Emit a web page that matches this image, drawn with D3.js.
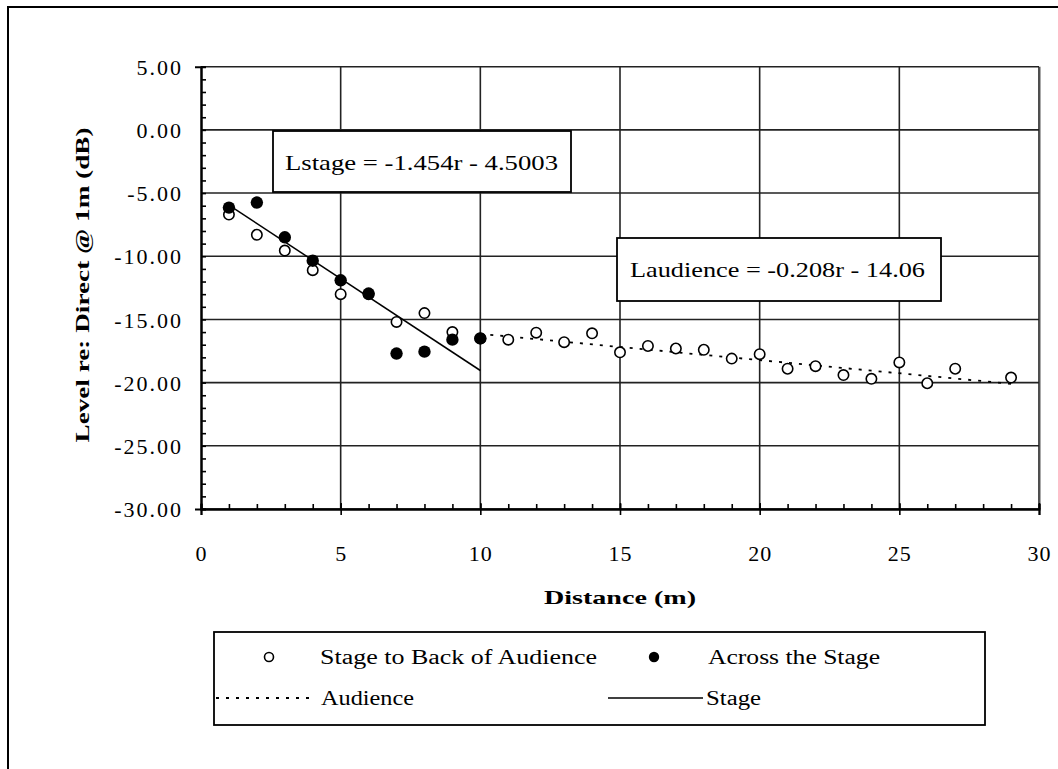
<!DOCTYPE html>
<html><head><meta charset="utf-8">
<script src="https://d3js.org/d3.v7.min.js"></script>
<style>
html,body{margin:0;padding:0;background:#fff;}
svg text{font-family:"Liberation Serif","Times New Roman",serif;fill:#000;}
</style></head>
<body>
<svg id="chart" width="1058" height="769"></svg>
<script>
// ---- data ----
const audienceX = [1,2,3,4,5,6,7,8,9,10,11,12,13,14,15,16,17,18,19,20,21,22,23,24,25,26,27,29];
const audienceY = [-6.7,-8.3,-9.55,-11.1,-13.0,-13.0,-15.2,-14.5,-16.0,-16.5,-16.6,-16.05,-16.8,-16.1,-17.6,-17.1,-17.3,-17.4,-18.1,-17.75,-18.9,-18.7,-19.4,-19.7,-18.4,-20.05,-18.9,-19.6];
const stageX = [1,2,3,4,5,6,7,8,9,10];
const stageY = [-6.15,-5.75,-8.5,-10.35,-11.9,-12.95,-17.7,-17.55,-16.6,-16.5];
const stageFit = {slope:-1.454, intercept:-4.5003, from:1, to:10};
const audienceFit = {slope:-0.208, intercept:-14.06, from:10, to:29};
const xTicks = [0,5,10,15,20,25,30];
const yTicks = [5,0,-5,-10,-15,-20,-25,-30];
const seriesNames = ["Stage to Back of Audience","Across the Stage","Audience","Stage"];
const eqStage = "Lstage = -1.454r - 4.5003";
const eqAudience = "Laudience = -0.208r - 14.06";

const svg = d3.select("#chart");
const L = 201, R = 1039, T = 66.7, B = 509;
const x = d3.scaleLinear().domain([0,30]).range([L,R]);
const y = d3.scaleLinear().domain([-30,5]).range([B,T]);

// outer frame (left & top only visible)
svg.append("path").attr("d",`M8,769 L8,7 L1058,7`).attr("fill","none").attr("stroke","#000").attr("stroke-width",2);

// gridlines
const grid = svg.append("g").attr("stroke","#222").attr("stroke-width",1.6);
yTicks.forEach(v=>{ grid.append("line").attr("x1",L).attr("x2",R).attr("y1",y(v)).attr("y2",y(v)); });
xTicks.filter(v=>v>0).forEach(v=>{ grid.append("line").attr("x1",x(v)).attr("x2",x(v)).attr("y1",T).attr("y2",B); });
svg.append("line").attr("x1",R+1.5).attr("x2",R+1.5).attr("y1",T).attr("y2",B).attr("stroke","#aaa").attr("stroke-width",1);

// y axis
const yMinor = svg.append("g").attr("transform",`translate(${L},0)`)
  .call(d3.axisLeft(y).tickValues(d3.range(-30,6,1)).tickSize(-5).tickFormat(""));
const yAx = svg.append("g").attr("transform",`translate(${L},0)`)
  .call(d3.axisLeft(y).tickValues(yTicks).tickSize(6).tickPadding(14).tickFormat(d=>d.toFixed(2)));
// x axis
const xMinor = svg.append("g").attr("transform",`translate(0,${B})`)
  .call(d3.axisBottom(x).tickValues(d3.range(0,31,1)).tickSize(-5).tickFormat(""));
const xAx = svg.append("g").attr("transform",`translate(0,${B})`)
  .call(d3.axisBottom(x).tickValues(xTicks).tickSize(6).tickFormat(d=>String(d)));
[yMinor,yAx,xMinor,xAx].forEach(g=>{
  g.selectAll("path.domain").attr("stroke","#000").attr("stroke-width",2);
  g.selectAll(".tick line").attr("stroke","#000").attr("stroke-width",1.6);
});
xAx.selectAll(".tick line").attr("y1",-6);
yAx.selectAll(".tick line").attr("x2",0);
yAx.selectAll("text").attr("font-size",22).attr("letter-spacing","2px")
  .attr("font-family","Liberation Serif").attr("x",-18).attr("dy","0.35em").attr("fill","#000");
xAx.selectAll("text").attr("font-size",22).attr("letter-spacing","1px")
  .attr("font-family","Liberation Serif").attr("y",44).attr("dy","0.35em").attr("fill","#000");

// trend lines
const fitLine = f => [[f.from, f.slope*f.from+f.intercept],[f.to, f.slope*f.to+f.intercept]];
const line = d3.line().x(d=>x(d[0])).y(d=>y(d[1]));
svg.append("path").attr("d",line(fitLine(stageFit))).attr("fill","none").attr("stroke","#000").attr("stroke-width",1.5);
svg.append("path").attr("d",line(fitLine(audienceFit))).attr("fill","none").attr("stroke","#000").attr("stroke-width",1.8).attr("stroke-dasharray","3,7");

// markers
svg.append("g").selectAll("circle").data(audienceX.map((d,i)=>[d,audienceY[i]])).join("circle")
  .attr("cx",d=>x(d[0])).attr("cy",d=>y(d[1])).attr("r",5.2).attr("fill","#fff").attr("stroke","#000").attr("stroke-width",1.6);
svg.append("g").selectAll("circle").data(stageX.map((d,i)=>[d,stageY[i]])).join("circle")
  .attr("cx",d=>x(d[0])).attr("cy",d=>y(d[1])).attr("r",6.2).attr("fill","#000");

// equation boxes
function eqBox(x0,y0,w,h,txt,tx,tb,tl){
  svg.append("rect").attr("x",x0).attr("y",y0).attr("width",w).attr("height",h)
    .attr("fill","#fff").attr("stroke","#000").attr("stroke-width",1.8);
  svg.append("text").attr("x",tx).attr("y",tb).attr("font-size",21)
    .attr("textLength",tl).attr("lengthAdjust","spacingAndGlyphs").text(txt);
}
eqBox(273,131,298,61,eqStage,285,170,273);
eqBox(617,238,324,63,eqAudience,630,277,295);

// axis titles
svg.append("text").attr("x",(L+R)/2).attr("y",604).attr("text-anchor","middle")
  .attr("font-size",19).attr("font-weight","bold").attr("textLength",152).attr("lengthAdjust","spacingAndGlyphs").text("Distance (m)");
svg.append("text").attr("transform",`translate(89,285) rotate(-90)`).attr("text-anchor","middle")
  .attr("font-size",19).attr("font-weight","bold").attr("textLength",315).attr("lengthAdjust","spacingAndGlyphs").text("Level re: Direct @ 1m (dB)");

// legend
const lg = svg.append("g");
lg.append("rect").attr("x",214).attr("y",632).attr("width",771).attr("height",93)
  .attr("fill","#fff").attr("stroke","#000").attr("stroke-width",1.8);
lg.append("circle").attr("cx",269).attr("cy",657).attr("r",4.5).attr("fill","#fff").attr("stroke","#000").attr("stroke-width",1.6);
lg.append("circle").attr("cx",654).attr("cy",657).attr("r",5.2).attr("fill","#000");
lg.append("line").attr("x1",216).attr("x2",311).attr("y1",698).attr("y2",698).attr("stroke","#000").attr("stroke-width",1.8).attr("stroke-dasharray","3,7");
lg.append("line").attr("x1",608).attr("x2",703).attr("y1",698).attr("y2",698).attr("stroke","#000").attr("stroke-width",1.5);
const legText = [[320,664,277],[708,664,172],[321,705,93],[706,705,55]];
legText.forEach((p,i)=>{
  lg.append("text").attr("x",p[0]).attr("y",p[1]).attr("font-size",20)
    .attr("textLength",p[2]).attr("lengthAdjust","spacingAndGlyphs").text(seriesNames[i]);
});
</script>
</body></html>
